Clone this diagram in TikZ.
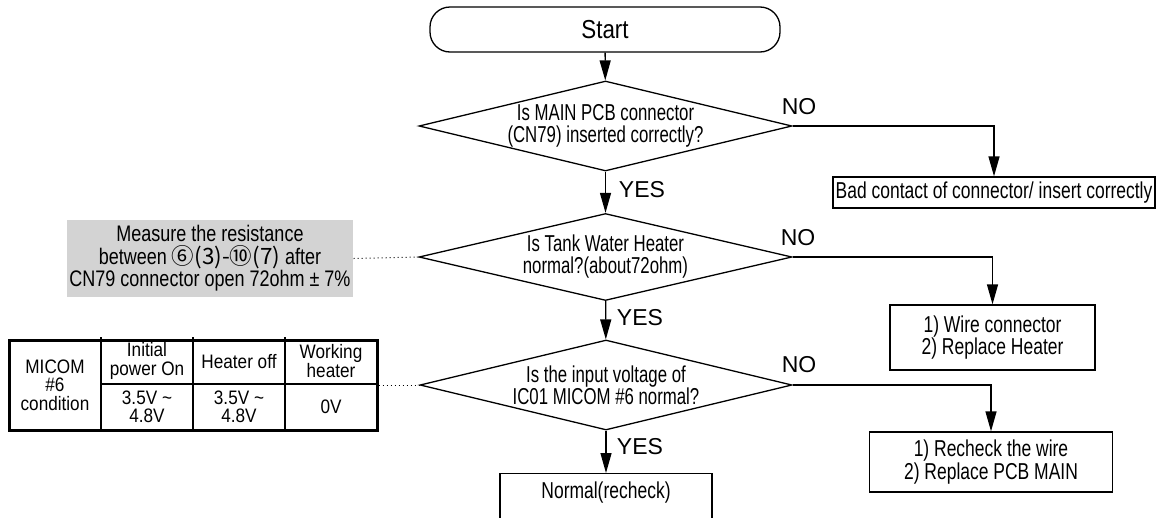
\documentclass[tikz,border=0pt]{standalone}
\usepackage{fontspec}
\setmainfont{Liberation Sans}
\newfontfamily\cond{Liberation Sans}[FakeStretch=0.73]
\newfontfamily\condb{Liberation Sans}[FakeStretch=0.76]
\newfontfamily\condn{Liberation Sans}[FakeStretch=0.8]
\newfontfamily\conds{Liberation Sans}[FakeStretch=0.86]
\newfontfamily\condt{Liberation Sans}[FakeStretch=0.88]
\newfontfamily\circfont{Noto Sans CJK JP}
\usetikzlibrary{shapes.geometric,arrows.meta}
\definecolor{notegray}{RGB}{211,211,211}
\begin{document}
\begin{tikzpicture}[x=1pt,y=-1pt,line width=1.3pt,
  >={Triangle[length=20pt,width=11pt]},
  dia/.style={draw,shape=diamond,inner sep=-8pt,align=center,
    font=\cond\fontsize{23}{22}\selectfont},
  box/.style={draw,rectangle,inner sep=0pt,align=center,
    font=\condb\fontsize{23}{22.5}\selectfont},
  txt/.style={inner sep=0pt,align=center,font=\condb\fontsize{23}{22.5}\selectfont},
  yn/.style={inner sep=0pt,font=\fontsize{23}{24}\selectfont},
  flow/.style={->},
  dots/.style={line width=1pt,dash pattern=on 1pt off 3pt},
  cell/.style={inner sep=0pt,align=center,font=\condt\fontsize{19.5}{18.5}\selectfont},
  notebox/.style={fill=notegray,inner sep=0pt,align=center,
    font=\condn\fontsize{22.5}{22.5}\selectfont}]
\useasboundingbox (0,0) rectangle (1161,517);

% main flow
\node[draw,rounded corners=20pt,minimum width=350,minimum height=45,inner sep=0pt,
  font=\conds\fontsize{26}{28}\selectfont] (start) at (605,29.5) {Start};
\node[dia,aspect=4.14,minimum width=373,minimum height=90] (d1) at (605.5,126)
  {Is MAIN PCB connector\\(CN79) inserted correctly?};
\node[dia,aspect=4.29,minimum width=373,minimum height=87] (d2) at (605.5,257)
  {Is Tank Water Heater\\normal?(about72ohm)};
\node[dia,aspect=4.13,minimum width=372,minimum height=90] (d3) at (606,385)
  {Is the input voltage of\\IC01 MICOM \#6 normal?};

% result boxes
\node[box,minimum width=322,minimum height=31] (bad) at (994,192.5)
  {Bad contact of connector/ insert correctly};
\node[box,minimum width=205,minimum height=65] (wire) at (992.5,337.5)
  {1) Wire connector\\2) Replace Heater};
\node[box,minimum width=243,minimum height=60] (rech) at (991,462)
  {1) Recheck the wire\\2) Replace PCB MAIN};
\node[draw,minimum width=212,minimum height=80,anchor=north,inner sep=0pt] (normal) at (606,473) {};
\node[txt] (normaltxt) at (606,493) {Normal(recheck)};

% connectors
\draw[flow] (start) -- (d1);
\draw[flow] (d1) -- (d2);
\draw[flow] (d2) -- (d3);
\draw[flow] (d3) -- (normal);
\draw[flow] (d1.east) -| (bad.north);
\draw[flow] (d2.east) -| (wire.north);
\draw[flow] (d3.east) -| (rech.north);

% YES / NO labels
\node[yn] (yes1) at (642,190) {YES};
\node[yn] (yes2) at (640,318) {YES};
\node[yn] (yes3) at (640,447) {YES};
\node[yn] (no1) at (799,107) {NO};
\node[yn] (no2) at (798,238) {NO};
\node[yn] (no3) at (799,365) {NO};

% note
\node[notebox,minimum width=286,minimum height=77] (note) at (210,258.5)
  {Measure the resistance\\between {\circfont ⑥(3)-⑩(7)} after\\CN79 connector open 72ohm ± 7\%};
\draw[dots] (note.east) -- (d2.west);

% table
\node[draw,line width=3pt,minimum width=368,minimum height=90,inner sep=0pt] (tbl) at (193,385) {};
\draw (101,337) -- (101,430);
\draw (193,337) -- (193,430);
\draw (285,337) -- (285,430);
\draw (101,384) -- (377,384);
\node[cell] (c1) at (55,385) {MICOM\\\#6\\condition};
\node[cell] (c2) at (147,361) {Initial\\power On};
\node[cell] (c3) at (239,362) {Heater off};
\node[cell] (c4) at (331,361) {Working\\heater};
\node[cell] (c5) at (147,407) {3.5V \textasciitilde\\4.8V};
\node[cell] (c6) at (239,407) {3.5V \textasciitilde\\4.8V};
\node[cell] (c7) at (331,407) {0V};
\draw[dots] (tbl.east) -- (d3.west);
\end{tikzpicture}
\end{document}
